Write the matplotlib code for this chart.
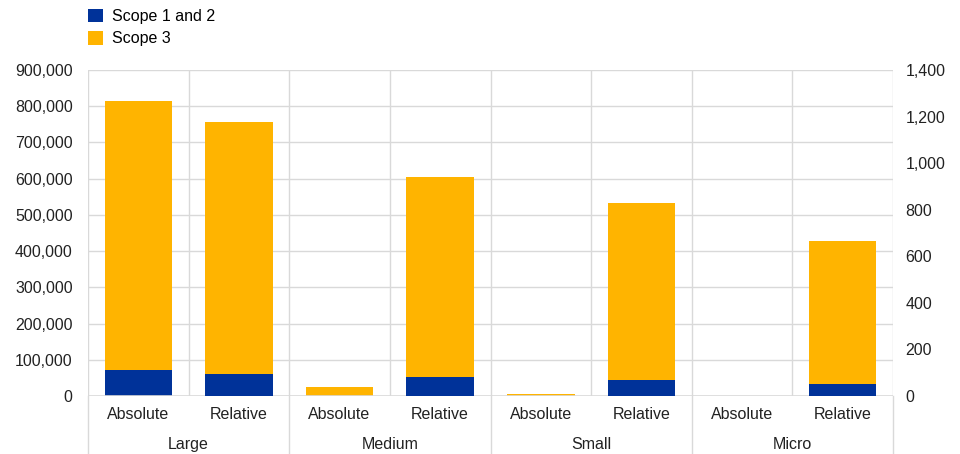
import matplotlib
matplotlib.use("Agg")
import matplotlib.pyplot as plt
from matplotlib.ticker import FuncFormatter, FixedLocator
from matplotlib.patches import Patch
from matplotlib.lines import Line2D

groups = ["Large", "Medium", "Small", "Micro"]
sub_labels = ["Absolute", "Relative"]
series = ["Scope 1 and 2", "Scope 3"]

# Absolute (left axis)
abs_scope12 = [71000, 800, 200, 50]
abs_scope3 = [744000, 23000, 5500, 600]
# Relative (right axis)
rel_scope12 = [96, 83, 67, 53]
rel_scope3 = [1079, 859, 760, 611]

BLUE = "#003299"
YELLOW = "#FFB400"
GRID = "#d9d9d9"
FONT = "Liberation Sans"
FS = 11.5
plt.rcParams["font.family"] = [FONT, "DejaVu Sans"]

fig = plt.figure(figsize=(9.6, 4.54), dpi=100)
ax = fig.add_axes([88/960, 1-396/454, (893-88)/960, (396-70)/454])
ax2 = ax.twinx()

n = len(groups)
abs_x = [2*i for i in range(n)]
rel_x = [2*i+1 for i in range(n)]
w = 0.67

ax.bar(abs_x, abs_scope12, w, color=BLUE, zorder=3)
ax.bar(abs_x, abs_scope3, w, bottom=abs_scope12, color=YELLOW, zorder=3)
ax2.bar(rel_x, rel_scope12, w, color=BLUE, zorder=3)
ax2.bar(rel_x, rel_scope3, w, bottom=rel_scope12, color=YELLOW, zorder=3)

ax.set_xlim(-0.5, 2*n-0.5)
ax.set_ylim(0, 900000)
ax2.set_ylim(0, 1400)
ax.yaxis.set_major_locator(FixedLocator(range(0, 900001, 100000)))
ax2.yaxis.set_major_locator(FixedLocator(range(0, 1401, 200)))
fmt = FuncFormatter(lambda v, p: f"{int(v):,}")
ax.yaxis.set_major_formatter(fmt)
ax2.yaxis.set_major_formatter(fmt)

# grids
for yv in range(100000, 900001, 100000):
    ax.axhline(yv, color=GRID, lw=1, zorder=0)
for xv in range(0, 2*n+1):
    ax.axvline(xv-0.5, color=GRID, lw=1, zorder=0)

for a in (ax, ax2):
    for s in a.spines.values():
        s.set_visible(False)
    a.tick_params(length=0, labelsize=FS, colors="#222222")
ax.axhline(0, color=GRID, lw=1.2, zorder=4)
ax.tick_params(axis="y", pad=11)
ax2.tick_params(axis="y", pad=9)

ax.set_xticks(list(range(2*n)))
ax.set_xticklabels([sub_labels[i % 2] for i in range(2*n)], fontsize=FS, color="#222222")
ax.tick_params(axis="x", pad=8)

trans = ax.get_xaxis_transform()
for i, g in enumerate(groups):
    ax.text(2*i+0.5, -0.15, g, transform=trans, ha="center", va="center",
            fontsize=FS, color="#222222")
for i in range(n+1):
    ax.add_line(Line2D([2*i-0.5, 2*i-0.5], [0, -0.2], transform=trans,
                       color=GRID, lw=1, clip_on=False))

handles = [Patch(facecolor=BLUE, edgecolor="none"), Patch(facecolor=YELLOW, edgecolor="none")]
fig.legend(handles, series, loc="upper left", bbox_to_anchor=(74/960, 1.012),
           frameon=False, fontsize=FS, handlelength=0.9, handleheight=0.9,
           handletextpad=0.6, labelspacing=0.45)

fig.savefig("out.png", dpi=100)
